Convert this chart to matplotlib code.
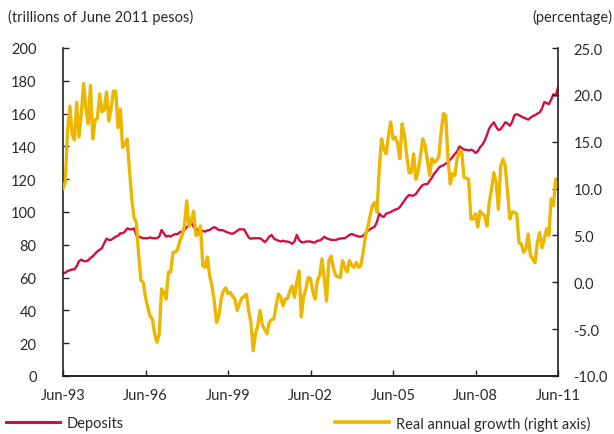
import matplotlib
matplotlib.use("Agg")
import matplotlib.pyplot as plt
from matplotlib.lines import Line2D
import numpy as np

plt.rcParams['font.family'] = ['Lato', 'DejaVu Sans']

# Monthly data, Jun-93 .. Jun-11
deposits = [
    62.5, 63, 64, 64.5, 65, 65, 67, 70, 71, 70, 70, 70.5,
    72, 73, 74.5, 76, 77, 78, 81, 83.7, 83, 83, 84, 85,
    85.5, 87, 87, 88, 90, 89.5, 89.4, 90, 85.7, 85, 84.5, 84,
    84, 84, 84.5, 84, 84, 84, 85, 89, 87, 85, 85.5, 85,
    86, 86.5, 86.5, 87.8, 88, 89, 90.8, 92, 93.5, 91, 89.8, 89,
    88, 88.5, 88, 88.8, 89, 90, 90.8, 90, 89, 89, 88.8, 88,
    87.5, 87, 86.7, 87.5, 88.5, 89.5, 89.4, 89.4, 87, 84.5, 83.7, 84,
    84, 84, 84, 83, 81.6, 83, 85, 86, 84, 83, 82.5, 82,
    82.5, 82, 82, 81.5, 80.6, 82, 86, 83, 81.6, 81.5, 82, 82,
    82, 81.5, 81.4, 82.5, 82.6, 83.5, 84.9, 84, 83.5, 83, 83, 82.9,
    83.5, 83.8, 84, 84, 85, 86, 86.6, 86, 85.5, 85, 85, 85.5,
    87, 88.5, 89.5, 90.3, 91, 94, 99, 97.5, 97, 99, 99.4, 100,
    100.8, 101.5, 101.8, 103, 105, 107, 109, 110.4, 110, 110, 111, 113,
    115, 116.5, 117, 117, 119, 121, 123.5, 125, 127, 128, 128.5, 129.5,
    130.5, 132, 133.5, 135.4, 137, 140, 139, 138, 138, 137.5, 138, 137.4,
    136, 137, 139.5, 141, 143.5, 147, 151, 153, 154.7, 152, 150, 150.5,
    152.5, 154.7, 154, 152.6, 155, 159, 159.7, 159, 158.3, 157.5, 157, 156.3,
    157.5, 158.5, 159, 160, 160.7, 163, 167, 166.5, 165.7, 168.5, 171.8, 170.8,
    176,
]

growth = [
    10.0, 10.7, 16.2, 18.8, 15.8, 15.2, 19.2, 15.5, 18.0, 21.2, 18.5, 16.9,
    21.0, 15.3, 17.3, 17.5, 20.1, 18.2, 18.4, 20.3, 17.2, 18.6, 20.4, 20.4,
    16.5, 18.5, 14.4, 14.7, 15.3, 12.0, 8.9, 6.9, 6.4, 3.0, 0.2, 0.0,
    -1.6, -2.7, -3.6, -3.9, -5.5, -6.4, -5.5, -0.7, -1.1, -1.8, 1.1, 1.1,
    3.2, 3.2, 3.5, 4.4, 5.0, 6.0, 8.7, 6.0, 6.5, 7.6, 5.0, 5.1,
    6.0, 1.8, 1.6, 2.7, 0.7, -0.4, -2.0, -4.3, -3.6, -1.8, -0.9, -0.6,
    -1.2, -1.1, -1.5, -1.8, -3.0, -2.3, -1.7, -1.5, -1.25, -3.0, -4.3, -7.3,
    -5.5, -4.6, -3.0, -4.6, -5.0, -5.5, -4.3, -4.0, -3.9, -2.5, -1.25, -1.6,
    -2.5, -1.8, -1.7, -0.9, -0.4, -1.6, 0.0, 1.2, -3.7, -1.5, -0.7, 0.5,
    0.4, -1.0, -1.8, 0.2, 0.7, 2.5, 0.4, -2.0, 2.3, 2.8, 1.5, 0.7,
    0.6, 0.5, 2.3, 1.6, 1.1, 2.3, 1.8, 1.6, 2.1, 1.6, 1.8, 3.2,
    5.0, 5.9, 7.1, 8.2, 8.5, 7.5, 12.1, 15.3, 14.2, 13.7, 15.6, 17.1,
    15.3, 15.5, 14.8, 13.2, 16.9, 15.7, 13.5, 11.7, 11.7, 13.7, 11.0, 11.9,
    13.5, 15.3, 14.6, 13.0, 11.4, 13.2, 12.8, 13.0, 13.4, 16.0, 18.0, 17.8,
    13.2, 10.5, 11.6, 11.4, 13.2, 14.0, 13.9, 11.2, 11.1, 11.0, 6.75, 6.75,
    7.3, 5.9, 7.6, 7.3, 7.1, 6.0, 8.5, 9.95, 11.7, 10.7, 7.8, 12.4,
    13.15, 12.4, 9.6, 6.75, 7.5, 7.47, 7.3, 4.2, 4.1, 3.2, 3.56, 5.15,
    2.84, 2.5, 2.1, 4.27, 5.3, 3.7, 4.6, 5.7, 4.97, 8.9, 8.2, 11.0,
    11.0,
]

tick_months = [0, 36, 72, 108, 144, 180, 216]
tick_labels = ["Jun-93", "Jun-96", "Jun-99", "Jun-02", "Jun-05", "Jun-08", "Jun-11"]

RED = "#D1103F"
YELLOW = "#EDB600"
TXT = "#2a2a2a"

fig = plt.figure(figsize=(6.14, 4.35), dpi=100)
ax = fig.add_axes([63/614, 1-377/435, (558-63)/614, (377-49)/435])
ax2 = ax.twinx()

x_dep = np.arange(len(deposits))
x_gr = np.arange(len(growth))
ax.plot(x_dep, deposits, color=RED, lw=1.7, solid_joinstyle='round')
ax2.plot(x_gr, growth, color=YELLOW, lw=2.4, solid_joinstyle='round')

ax.set_xlim(0, 216)
ax.set_ylim(0, 200)
ax.set_yticks(np.arange(0, 201, 20))
ax2.set_ylim(-10, 25)
ax2.set_yticks(np.arange(-10, 25.1, 5))
ax2.set_yticklabels([f"{v:.1f}" for v in np.arange(-10, 25.1, 5)])
ax.set_xticks(tick_months)
ax.set_xticklabels(tick_labels)

for a in (ax, ax2):
    a.spines['top'].set_visible(False)
    for s in a.spines.values():
        s.set_linewidth(1.2)
        s.set_color("#222222")
    a.tick_params(direction='in', length=4, width=1.0, colors="#222222",
                  labelsize=10.5, labelcolor=TXT)
ax.spines['right'].set_visible(False)
ax2.spines['left'].set_visible(False)
ax.tick_params(axis='y', pad=19)
ax.tick_params(axis='x', pad=9)
ax2.tick_params(axis='y', pad=11)

fig.text(8/614, 1-17/435, "(trillions of June 2011 pesos)", fontsize=10.5,
         color=TXT, ha='left', va='center')
fig.text(612/614, 1-17/435, "(percentage)", fontsize=10.5,
         color=TXT, ha='right', va='center')

h1 = Line2D([], [], color=RED, lw=2.2)
h2 = Line2D([], [], color=YELLOW, lw=2.6)
for h, lab, x0 in ((h1, "Deposits", 6), (h2, "Real annual growth (right axis)", 335)):
    fig.legend([h], [lab], loc='center left', bbox_to_anchor=(x0/614, 1-424/435),
               frameon=False, fontsize=10.5, handlelength=3.7, handletextpad=0.45,
               borderpad=0, borderaxespad=0, labelcolor=TXT)

fig.savefig("out.png", dpi=100)
